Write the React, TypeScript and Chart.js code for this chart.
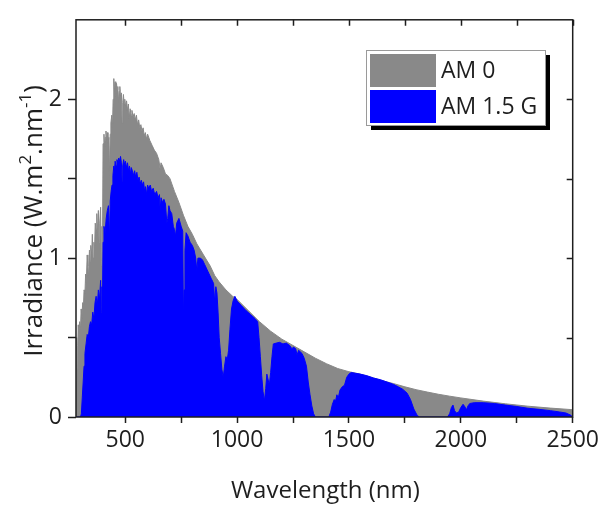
import React, { useEffect, useRef } from "react";
import { Chart, registerables } from "chart.js";

Chart.register(...registerables);

// ---------- data ----------
const am0Wavelength = [
  280, 283, 285, 288, 290, 293, 296, 300, 303, 306, 310, 313, 316, 320, 323, 326, 330, 333, 336, 340,
  343, 346, 350, 353, 356, 360, 363, 366, 370, 373, 376, 380, 383, 386, 390, 393, 396, 398, 401, 405,
  408, 411, 414, 417, 420, 423, 427, 430, 433, 436, 440, 443, 446, 449, 452, 455, 458, 461, 464, 467,
  470, 473, 476, 480, 483, 486, 489, 492, 495, 498, 502, 506, 510, 514, 518, 522, 526, 530, 535, 540,
  545, 550, 555, 560, 565, 570, 575, 580, 585, 590, 595, 600, 610, 620, 630, 640, 650, 656, 660, 670,
  680, 690, 700, 720, 740, 760, 780, 800, 820, 850, 880, 900, 920, 950, 980, 1000, 1050, 1100, 1150, 1200,
  1250, 1300, 1350, 1400, 1450, 1500, 1550, 1600, 1650, 1700, 1750, 1800, 1850, 1900, 1950, 2000, 2050, 2100, 2200, 2300,
  2400, 2500,
];
const am0Irradiance = [
  0.22, 0.5, 0.3, 0.45, 0.58, 0.48, 0.6, 0.55, 0.68, 0.62, 0.72, 0.68, 0.8, 0.78, 0.9, 0.84, 1.02, 0.95, 0.88, 1.05,
  0.98, 1.08, 1.02, 1.15, 1.0, 1.1, 1.05, 1.22, 1.18, 1.28, 1.14, 1.3, 1.1, 1.22, 1.32, 0.95, 1.2, 0.98, 1.72, 1.78,
  1.7, 1.76, 1.8, 1.74, 1.79, 1.72, 1.76, 1.52, 1.78, 1.85, 1.9, 1.82, 2.0, 2.13, 2.05, 2.11, 2.02, 2.1, 2.06, 2.08,
  1.98, 2.05, 2.08, 2.0, 2.04, 1.85, 1.98, 2.03, 1.97, 2.0, 1.95, 1.99, 1.93, 1.97, 1.88, 1.94, 1.9, 1.93, 1.89, 1.91,
  1.87, 1.9, 1.84, 1.87, 1.82, 1.84, 1.8, 1.82, 1.77, 1.79, 1.75, 1.78, 1.74, 1.71, 1.68, 1.66, 1.62, 1.56, 1.6, 1.57,
  1.53, 1.52, 1.5, 1.42, 1.35, 1.27, 1.2, 1.15, 1.09, 1.02, 0.95, 0.89, 0.85, 0.8, 0.76, 0.74, 0.67, 0.6, 0.54, 0.49,
  0.45, 0.41, 0.37, 0.335, 0.305, 0.285, 0.27, 0.25, 0.228, 0.21, 0.19, 0.172, 0.157, 0.143, 0.131, 0.12, 0.11, 0.1, 0.083, 0.068,
  0.056, 0.046,
];

const am15Wavelength = [
  280, 300, 304, 308, 312, 316, 320, 325, 330, 335, 340, 345, 350, 355, 360, 365, 370, 375, 380, 385,
  390, 393, 396, 398, 401, 405, 410, 415, 420, 425, 430, 433, 437, 441, 445, 449, 452, 455, 459, 463,
  467, 471, 475, 479, 483, 486, 489, 493, 497, 501, 505, 510, 515, 519, 523, 527, 532, 537, 542, 547,
  552, 557, 562, 567, 572, 577, 582, 587, 591, 596, 600, 605, 612, 618, 625, 632, 640, 647, 653, 656,
  660, 667, 673, 680, 686, 690, 695, 700, 708, 715, 720, 725, 730, 740, 750, 757, 760, 763, 767, 772,
  780, 790, 800, 808, 815, 820, 825, 835, 845, 855, 865, 875, 885, 895, 900, 905, 910, 915, 920, 926,
  932, 938, 944, 950, 956, 962, 968, 975, 982, 990, 1000, 1020, 1040, 1060, 1080, 1092, 1098, 1104, 1110, 1116,
  1122, 1128, 1133, 1138, 1144, 1150, 1156, 1162, 1175, 1190, 1205, 1220, 1235, 1245, 1252, 1262, 1268, 1275, 1290, 1300,
  1310, 1318, 1326, 1334, 1342, 1350, 1410, 1418, 1426, 1434, 1440, 1446, 1452, 1460, 1470, 1480, 1490, 1500, 1510, 1530,
  1550, 1580, 1610, 1640, 1670, 1700, 1720, 1740, 1760, 1775, 1790, 1805, 1815, 1940, 1950, 1958, 1965, 1972, 1980, 1990,
  2000, 2010, 2018, 2025, 2032, 2040, 2060, 2100, 2150, 2200, 2250, 2300, 2350, 2400, 2440, 2470, 2490, 2500,
];
const am15Irradiance = [
  0, 0, 0.02, 0.12, 0.22, 0.32, 0.4, 0.46, 0.52, 0.5, 0.57, 0.6, 0.58, 0.66, 0.62, 0.72, 0.76, 0.7, 0.8, 0.74,
  0.86, 0.66, 0.82, 0.7, 1.1, 1.2, 1.16, 1.25, 1.3, 1.33, 1.12, 1.36, 1.42, 1.46, 1.52, 1.58, 1.55, 1.61, 1.58, 1.62,
  1.6, 1.63, 1.61, 1.64, 1.6, 1.48, 1.58, 1.62, 1.59, 1.61, 1.57, 1.6, 1.55, 1.58, 1.53, 1.57, 1.55, 1.52, 1.55, 1.51,
  1.54, 1.49, 1.51, 1.47, 1.49, 1.46, 1.48, 1.42, 1.45, 1.4, 1.46, 1.44, 1.46, 1.42, 1.44, 1.4, 1.42, 1.38, 1.4, 1.3,
  1.38, 1.35, 1.37, 1.34, 1.22, 1.25, 1.33, 1.3, 1.28, 1.2, 1.18, 1.14, 1.22, 1.25, 1.2, 1.17, 0.62, 0.8, 1.05, 1.16,
  1.14, 1.1, 1.08, 1.05, 1.0, 0.92, 1.0, 1.0, 0.99, 0.96, 0.93, 0.9, 0.87, 0.84, 0.72, 0.82, 0.78, 0.66, 0.5, 0.4,
  0.3, 0.25, 0.32, 0.38, 0.36, 0.42, 0.55, 0.68, 0.73, 0.76, 0.73, 0.7, 0.67, 0.645, 0.62, 0.6, 0.5, 0.38, 0.26, 0.16,
  0.1, 0.18, 0.27, 0.24, 0.2, 0.28, 0.38, 0.46, 0.465, 0.47, 0.46, 0.465, 0.45, 0.43, 0.44, 0.43, 0.39, 0.42, 0.4, 0.37,
  0.32, 0.22, 0.14, 0.07, 0.02, 0, 0, 0.03, 0.08, 0.11, 0.1, 0.14, 0.12, 0.17, 0.19, 0.2, 0.25, 0.27, 0.28, 0.275,
  0.27, 0.26, 0.245, 0.235, 0.22, 0.205, 0.19, 0.175, 0.15, 0.11, 0.05, 0.01, 0, 0, 0.02, 0.06, 0.075, 0.04, 0.025, 0.03,
  0.06, 0.08, 0.065, 0.045, 0.07, 0.085, 0.09, 0.09, 0.085, 0.075, 0.066, 0.055, 0.048, 0.04, 0.032, 0.025, 0.012, 0,
];

const xTicks = [500, 750, 1000, 1250, 1500, 1750, 2000, 2250, 2500];
const yTicks = [0, 0.5, 1, 1.5, 2];
const seriesNames = ["AM 0", "AM 1.5 G"];
const xTitle = "Wavelength (nm)";
const yTitleParts = ["Irradiance (W.m", "2", ".nm", "-1", ")"];

const GRAY = "#898989";
const BLUE = "#0000ff";
const INK = "#1e1e1e";
const FONT = "'Open Sans', sans-serif";

const framePlugin = {
  id: "frameAndDecor",
  afterDatasetsDraw(chart: any) {
    const { ctx, chartArea: a, scales } = chart;
    ctx.save();
    ctx.strokeStyle = INK;
    ctx.lineWidth = 1.5;
    ctx.strokeRect(a.left, a.top, a.right - a.left, a.bottom - a.top);
    ctx.beginPath();
    for (const v of xTicks) {
      const x = Math.round(scales.x.getPixelForValue(v)) + 0.5;
      ctx.moveTo(x, a.top);
      ctx.lineTo(x, a.top + 6);
    }
    for (const v of yTicks) {
      if (v === 0) continue;
      const y = Math.round(scales.y.getPixelForValue(v)) + 0.5;
      ctx.moveTo(a.right, y);
      ctx.lineTo(a.right - 6, y);
    }
    ctx.stroke();
    ctx.restore();
  },
  afterDraw(chart: any) {
    const { ctx, chartArea: a } = chart;
    ctx.save();
    // legend with shadow
    const lx = 366, ly = 50, lw = 179, lh = 75;
    ctx.fillStyle = "#000";
    ctx.fillRect(lx + 5, ly + 5, lw, lh);
    ctx.fillStyle = "#fff";
    ctx.fillRect(lx, ly, lw, lh);
    ctx.strokeStyle = "#9a9a9a";
    ctx.lineWidth = 1;
    ctx.strokeRect(lx + 0.5, ly + 0.5, lw, lh);
    const colors = [GRAY, BLUE];
    ctx.font = `23px ${FONT}`;
    ctx.textBaseline = "middle";
    ctx.textAlign = "left";
    seriesNames.forEach((name, i) => {
      const sy = ly + 4 + i * 36;
      ctx.fillStyle = colors[i];
      ctx.fillRect(lx + 4, sy, 66, 33);
      ctx.fillStyle = INK;
      ctx.fillText(name, lx + 75, sy + 17);
    });

    // x title
    ctx.font = `24px ${FONT}`;
    ctx.fillStyle = INK;
    ctx.textAlign = "center";
    ctx.textBaseline = "alphabetic";
    ctx.fillText(xTitle, (a.left + a.right) / 2 + 1, 498);

    // y title with superscripts
    const main = `26px ${FONT}`;
    const sup = `17px ${FONT}`;
    const parts = yTitleParts.map((t, i) => ({ t, sup: i % 2 === 1 }));
    let total = 0;
    const widths = parts.map((p) => {
      ctx.font = p.sup ? sup : main;
      const w = ctx.measureText(p.t).width;
      total += w;
      return w;
    });
    ctx.translate(42, 221);
    ctx.rotate(-Math.PI / 2);
    ctx.textAlign = "left";
    let cx = -total / 2;
    parts.forEach((p, i) => {
      ctx.font = p.sup ? sup : main;
      ctx.fillText(p.t, cx, p.sup ? -11 : 0);
      cx += widths[i];
    });
    ctx.restore();
  },
};

export default function App() {
  const ref = useRef<HTMLCanvasElement | null>(null);

  useEffect(() => {
    if (!ref.current) return;
    const am0 = am0Wavelength.map((x, i) => ({ x, y: am0Irradiance[i] }));
    const am15 = am15Wavelength.map((x, i) => ({ x, y: am15Irradiance[i] }));
    const chart = new Chart(ref.current, {
      type: "line",
      data: {
        datasets: [
          {
            label: seriesNames[1],
            data: am15,
            borderColor: BLUE,
            backgroundColor: BLUE,
            borderWidth: 1,
            pointRadius: 0,
            fill: "origin",
            tension: 0,
            order: 0,
          },
          {
            label: seriesNames[0],
            data: am0,
            borderColor: GRAY,
            backgroundColor: GRAY,
            borderWidth: 1,
            pointRadius: 0,
            fill: "origin",
            tension: 0,
            order: 1,
          },
        ],
      },
      options: {
        animation: false,
        responsive: false,
        devicePixelRatio: 1,
        layout: { padding: { top: 14, right: 30, left: 0, bottom: 0 } },
        plugins: { legend: { display: false }, tooltip: { enabled: false } },
        scales: {
          x: {
            type: "linear",
            min: 280,
            max: 2500,
            afterBuildTicks: (s: any) => {
              s.ticks = xTicks.map((value) => ({ value }));
            },
            afterFit: (s: any) => {
              s.height = 88;
            },
            ticks: {
              autoSkip: false,
              maxRotation: 0,
              padding: 4,
              color: INK,
              font: { family: FONT, size: 23 },
              callback: (v: any) => (Number(v) % 500 === 0 ? String(v) : ""),
            },
            grid: {
              display: true,
              drawOnChartArea: false,
              drawTicks: true,
              tickLength: 6,
              tickColor: INK,
              tickWidth: 1.5,
            },
            border: { display: false },
          },
          y: {
            type: "linear",
            min: 0,
            max: 2.5,
            afterBuildTicks: (s: any) => {
              s.ticks = yTicks.map((value) => ({ value }));
            },
            afterFit: (s: any) => {
              s.width = 76;
            },
            ticks: {
              autoSkip: false,
              padding: 6,
              color: INK,
              font: { family: FONT, size: 23 },
              callback: (v: any) => (Number.isInteger(Number(v)) ? String(v) : ""),
            },
            grid: {
              display: true,
              drawOnChartArea: false,
              drawTicks: true,
              tickLength: 8,
              tickColor: INK,
              tickWidth: 1.5,
            },
            border: { display: false },
          },
        },
      },
      plugins: [framePlugin],
    });
    return () => chart.destroy();
  }, []);

  return (
    <div style={{ position: "fixed", left: 0, top: 0, width: 603, height: 505, background: "#fff" }}>
      <canvas ref={ref} width={603} height={505} style={{ display: "block" }} />
    </div>
  );
}
